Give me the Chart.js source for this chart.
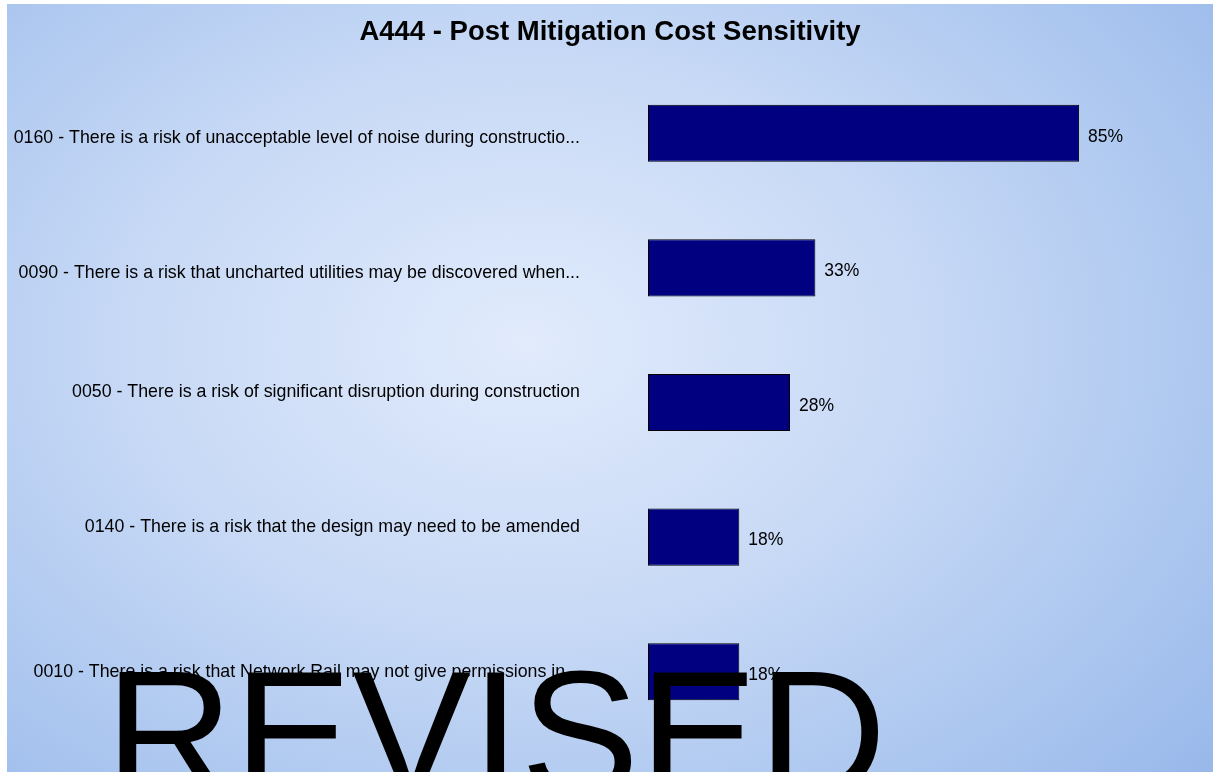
<!DOCTYPE html>
<html><head><meta charset="utf-8">
<script src="https://cdn.jsdelivr.net/npm/chart.js@4.4.0/dist/chart.umd.min.js"></script>
<style>
html,body{margin:0;padding:0;background:#fff;}
#wrap{position:absolute;left:7px;top:4px;width:1206px;height:768px;overflow:hidden;
background: radial-gradient(ellipse 78% 88% at 43% 44%, #e1ebfc 0%, #c9daf6 40%, #abc6ef 75%, #96b6ea 100%);}
canvas{display:block}
</style></head><body>
<div id="wrap"><canvas id="c" width="1206" height="768"></canvas></div>
<script>
const chartTitle = 'A444 - Post Mitigation Cost Sensitivity';
const categories = [
  '0160 - There is a risk of unacceptable level of noise during constructio...',
  '0090 - There is a risk that uncharted utilities may be discovered when...',
  '0050 - There is a risk of significant disruption during construction',
  '0140 - There is a risk that the design may need to be amended',
  '0010 - There is a risk that Network Rail may not give permissions in...'
];
const values = [0.85, 0.33, 0.28, 0.18, 0.18];
const valueLabels = ['85%', '33%', '28%', '18%', '18%'];
const watermark = 'REVISED';

// small vertical nudges of the category labels (layout, px)
const LABEL_NUDGE = [5, 5, -10, -10, 0];

const valuePlugin = {
  id: 'valueLabels',
  afterDatasetsDraw(chart) {
    const ctx = chart.ctx;
    const meta = chart.getDatasetMeta(0);
    ctx.save();
    ctx.font = '17.5px "Liberation Sans", Arial, sans-serif';
    ctx.fillStyle = '#000';
    ctx.textAlign = 'left';
    ctx.textBaseline = 'middle';
    meta.data.forEach((el, i) => {
      ctx.fillText(valueLabels[i], el.x + 9, el.y + 3.5);
    });
    ctx.restore();
  },
  afterDraw(chart) {
    const ctx = chart.ctx;
    ctx.save();
    ctx.font = '178px "Liberation Sans", Arial, sans-serif';
    ctx.fillStyle = '#000';
    ctx.textAlign = 'left';
    ctx.textBaseline = 'alphabetic';
    ctx.fillText(watermark, 98, 790.5);
    ctx.restore();
  }
};

new Chart(document.getElementById('c'), {
  type: 'bar',
  data: {
    labels: categories,
    datasets: [{
      data: values,
      backgroundColor: '#000080',
      borderColor: '#000000',
      borderWidth: 1,
      borderSkipped: false,
      barPercentage: 0.424,
      categoryPercentage: 1.0
    }]
  },
  options: {
    indexAxis: 'y',
    responsive: false,
    animation: false,
    layout: { padding: { left: 0, right: 0, top: 0, bottom: 33 } },
    plugins: {
      legend: { display: false },
      tooltip: { enabled: false },
      title: {
        display: true,
        text: chartTitle,
        color: '#000',
        font: { family: '"Liberation Sans", Arial, sans-serif', size: 27.5, weight: 'bold' },
        padding: { top: 12, bottom: 17 }
      }
    },
    scales: {
      x: { display: false, min: 0, max: 1.114 },
      y: {
        grid: { display: false, drawTicks: false },
        border: { display: false },
        ticks: {
          color: '#000',
          padding: 68,
          font(ctx) {
            const s = LABEL_NUDGE[ctx.index] || 0;
            return {
              family: '"Liberation Sans", Arial, sans-serif',
              size: 17.8,
              lineHeight: s ? (Math.abs(s) * 2) + 'px' : 1.2
            };
          },
          callback(v, i) {
            const t = categories[i];
            const s = LABEL_NUDGE[i] || 0;
            if (s > 0) return ['', t];
            if (s < 0) return [t, ''];
            return t;
          }
        },
        afterFit(s) { s.width = 641; s.paddingTop = 0; s.paddingBottom = 0; }
      }
    }
  },
  plugins: [valuePlugin]
});
</script>
</body></html>
